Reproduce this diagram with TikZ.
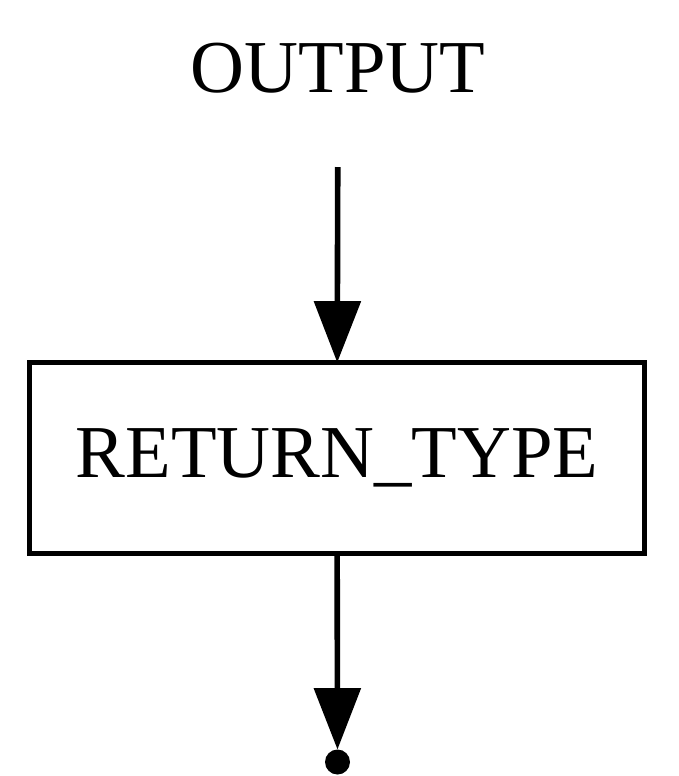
\documentclass[tikz,border=0pt]{standalone}
\usepackage{fontspec}
\setmainfont{Liberation Serif}
\usetikzlibrary{arrows.meta}
\begin{document}
\begin{tikzpicture}[
	x=0.75pt, y=-0.75pt,
	every node/.style={font=\fontsize{56}{60}\selectfont, inner sep=0pt, outer sep=0pt},
	plain/.style={minimum height=148.5pt},
	box/.style={draw, line width=4.2pt, minimum width=461pt, minimum height=143.25pt},
	endpoint/.style={circle, fill=black, minimum size=18.75pt},
	edge/.style={line width=4.2pt, -{Triangle[length=46pt, width=34.5pt]}}
	]
	\useasboundingbox (0,0) rectangle (679,776);
	\node[plain]  (output) at (338, 68)  { OUTPUT };
	\node[box]  (rettype) at (337, 458)  { RETURN\_TYPE };
	\node[endpoint]  (end) at (337.5, 762)  {};
	\path[draw, edge]  (output) -- (rettype);
	\path[draw, edge]  (rettype) -- (end);
\end{tikzpicture}
\end{document}
